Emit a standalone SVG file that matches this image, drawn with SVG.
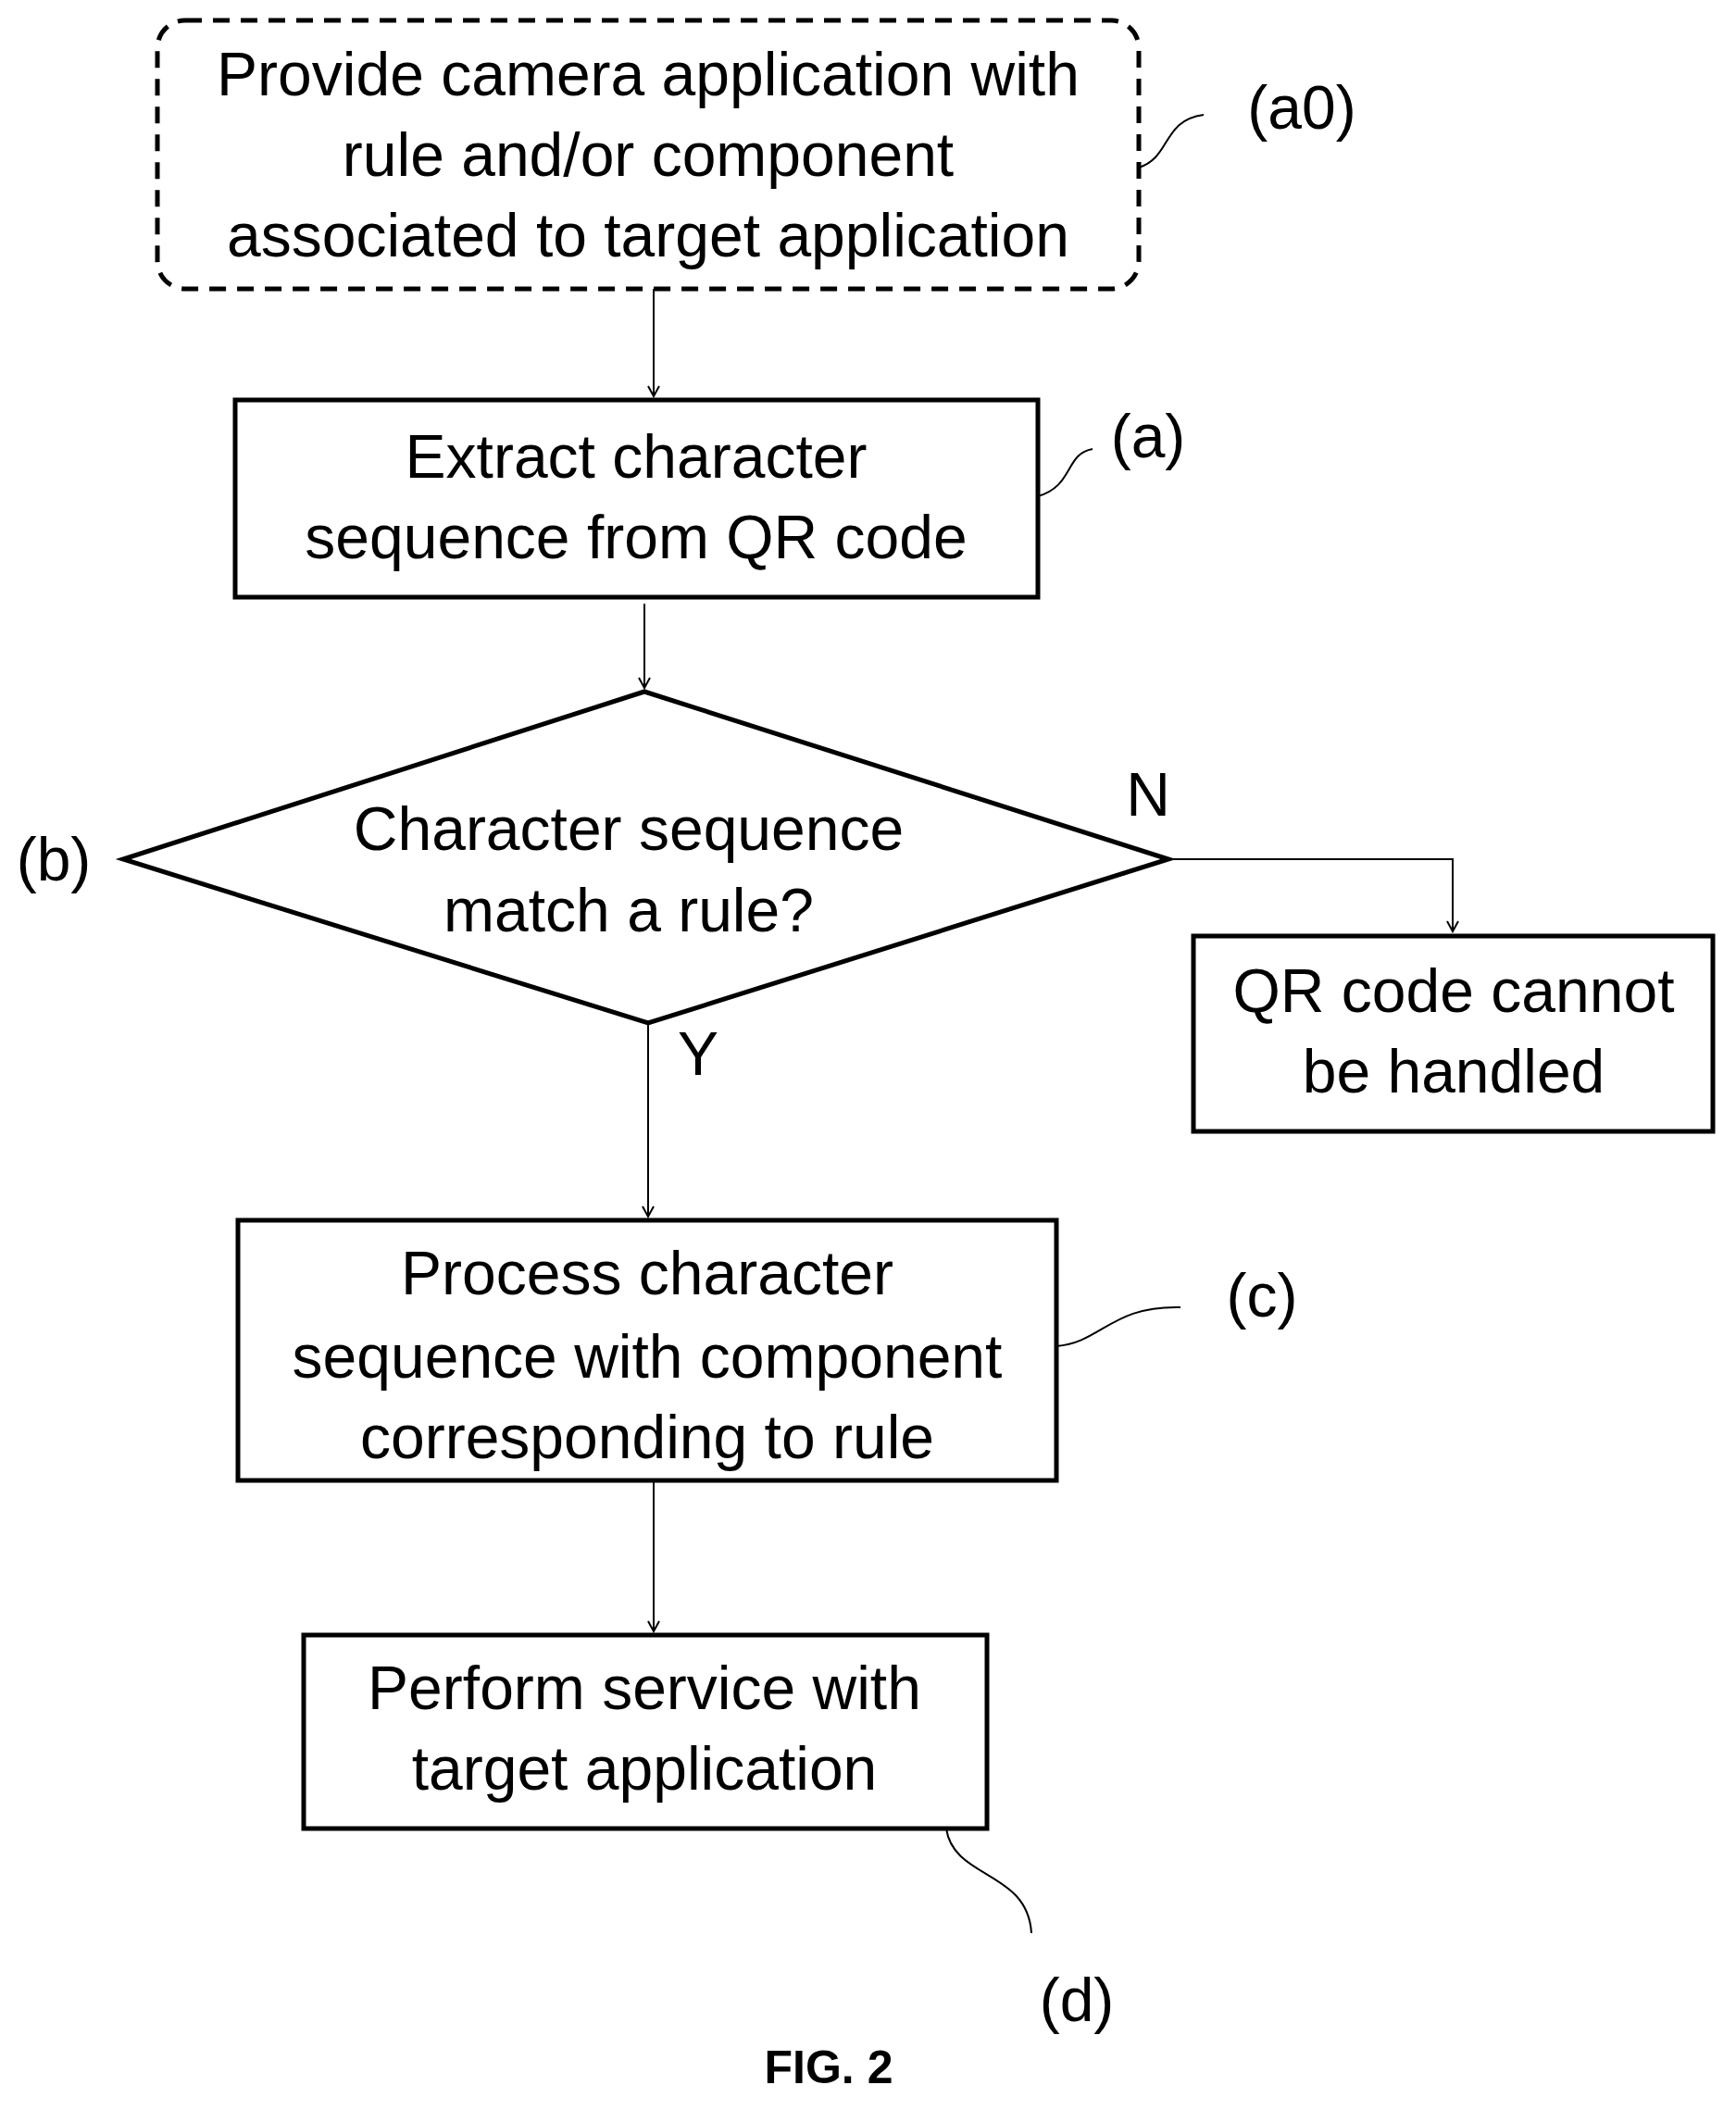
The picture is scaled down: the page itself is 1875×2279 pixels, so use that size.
<svg xmlns="http://www.w3.org/2000/svg" width="1875" height="2279" viewBox="0 0 1875 2279">
<style>
text{font-family:"Liberation Sans",Arial,sans-serif;font-size:66px;fill:#000;text-anchor:middle}
.box{fill:#fff;stroke:#000;stroke-width:5}
.c{fill:none;stroke:#000;stroke-width:2}
.sq{fill:none;stroke:#000;stroke-width:2}
</style>
<defs><marker id="ar" markerWidth="14" markerHeight="14" refX="12" refY="7" orient="auto" markerUnits="userSpaceOnUse"><path d="M1,1 L12,7 L1,13" fill="none" stroke="#000" stroke-width="2"/></marker></defs>
<rect width="1875" height="2279" fill="#fff"/>
<g id="connectors">
<line class="c" x1="706" y1="312" x2="706" y2="428" marker-end="url(#ar)"/>
<line class="c" x1="696" y1="652" x2="696" y2="743" marker-end="url(#ar)"/>
<polyline class="c" points="1262,928 1569,928 1569,1006" marker-end="url(#ar)"/>
<line class="c" x1="700" y1="1105" x2="700" y2="1314" marker-end="url(#ar)"/>
<line class="c" x1="706" y1="1599" x2="706" y2="1762" marker-end="url(#ar)"/>
</g>
<g id="a0"><rect class="box" x="170" y="22" width="1060" height="290" rx="30" stroke-dasharray="18,12"/>
<text x="700" y="103">Provide camera application with</text><text x="700" y="190">rule and/or component</text><text x="700" y="277">associated to target application</text></g>
<g id="a0-label"><path class="sq" d="M1230,181 C1265,170 1255,130 1300,124"/><text x="1406" y="139">(a0)</text></g>
<g id="a"><rect class="box" x="254" y="432" width="867" height="213"/>
<text x="687" y="516">Extract character</text><text x="687" y="603">sequence from QR code</text></g>
<g id="a-label"><path class="sq" d="M1121,536 C1160,525 1150,490 1180,485"/><text x="1240" y="494">(a)</text></g>
<g id="b"><polygon class="box" points="696,747 1262,928 700,1105 133,928"/>
<text x="679" y="918">Character sequence</text><text x="679" y="1006">match a rule?</text></g>
<g id="b-label"><text x="58" y="951">(b)</text></g>
<text x="1240" y="881">N</text>
<text x="754" y="1161">Y</text>
<g id="qr"><rect class="box" x="1289" y="1011" width="561" height="211"/>
<text x="1570" y="1093">QR code cannot</text><text x="1570" y="1180">be handled</text></g>
<g id="c"><rect class="box" x="257" y="1318" width="884" height="281"/>
<text x="699" y="1398">Process character</text><text x="699" y="1488">sequence with component</text><text x="699" y="1575">corresponding to rule</text></g>
<g id="c-label"><path class="sq" d="M1141,1454 C1190,1450 1200,1410 1275,1412"/><text x="1363" y="1422">(c)</text></g>
<g id="d"><rect class="box" x="328" y="1766" width="738" height="209"/>
<text x="696" y="1846">Perform service with</text><text x="696" y="1933">target application</text></g>
<g id="d-label"><path class="sq" d="M1022,1975 C1030,2030 1110,2020 1114,2088"/><text x="1163" y="2183">(d)</text></g>
<text x="895" y="2250" style="font-size:50px;font-weight:bold">FIG. 2</text>
</svg>
